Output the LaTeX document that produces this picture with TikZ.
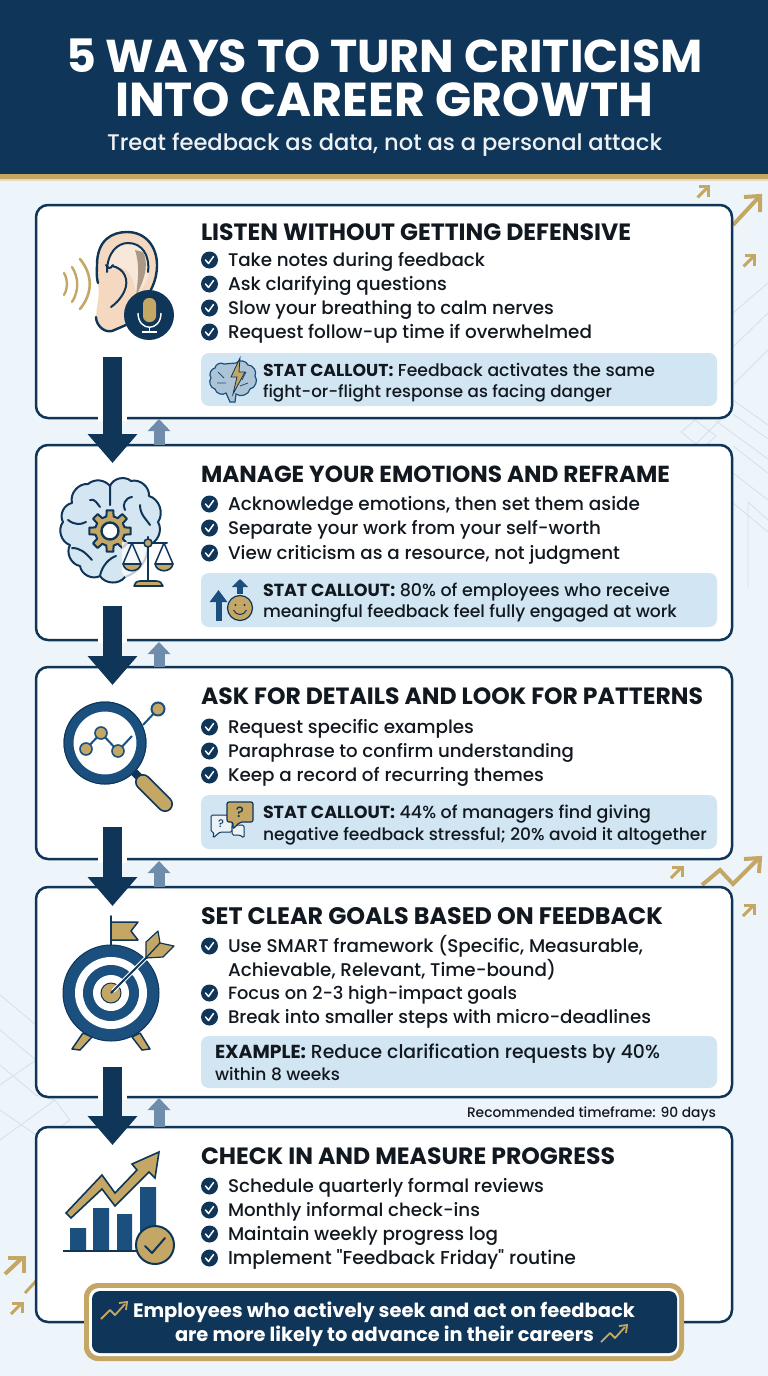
\documentclass[tikz,border=0pt]{standalone}
\usepackage{fontspec}
\setmainfont{Poppins Medium}[BoldFont=Poppins Bold]
\newfontfamily\plainf{Poppins Medium}
\usetikzlibrary{arrows.meta,calc}
\definecolor{navy}{HTML}{0F3558}
\definecolor{midblue}{HTML}{1A4F7E}
\definecolor{gold}{HTML}{C4A765}
\definecolor{ink}{HTML}{12181F}
\definecolor{callfill}{HTML}{D2E5F2}
\definecolor{pale}{HTML}{D3E0EC}
\definecolor{skin}{HTML}{F4D9C0}
\definecolor{brainblue}{HTML}{D5E6F3}
\definecolor{upblue}{HTML}{6F8DAB}
\definecolor{bgedge}{HTML}{EEF5FA}
\definecolor{bgmid}{HTML}{F8FBFD}
\newcommand\fitt[2]{\resizebox{#1pt}{!}{\fontsize{20}{24}\selectfont #2}}
\tikzset{
  x=1pt,y=-1pt,
  every node/.style={outer sep=0pt},
  lbl/.style={anchor=base west,inner sep=0pt,text=ink},
  card/.style={draw=navy,line width=2.5pt,fill=white,rounded corners=12pt,anchor=north west,inner sep=0pt},
  callbox/.style={fill=callfill,rounded corners=8pt,anchor=north west,inner sep=0pt},
  chk/.style={circle,fill=navy,minimum size=17pt,inner sep=0pt},
  bigarr/.style={navy,line width=19pt,-{Triangle[width=48pt,length=29pt]}},
  uparr/.style={upblue,line width=11pt,-{Triangle[width=22pt,length=12pt]}},
  deco/.style={gold,line width=3pt},
  pat/.style={pale,line width=0.8pt},
  ol/.style={draw=navy,line width=2pt,line join=round,line cap=round},
  tick/.pic={\draw[white,line width=1.5pt,line cap=round,line join=round] (-4,0)--(-1,3.5)--(4,-3.5);},
  smallup/.pic={\draw[deco] (-5,5)--(5,-5);\draw[deco,line join=miter] (-4,-6)--(6,-6)--(6,4);},
  trendic/.pic={\draw[gold,line width=1.8pt,line join=round] (0,17)--(9,8)--(14,13)--(24,2);\draw[gold,line width=1.8pt] (18,1)--(26,0)--(25,8);},
}
\newcommand\bul[4]{%
  \node[chk] (#1c) at (209.5,#2) {};
  \pic at (209.5,#2) {tick};
  \node[lbl] (#1) at (228,#2+6.5) {\fitt{#3}{#4}};
}
\newcommand\cardbox[3]{\node[card,minimum width=696pt,minimum height=#3pt] (#1) at (36,#2) {};}
\newcommand\callbox[3]{\node[callbox,minimum width=516pt,minimum height=#3pt] (#1) at (201,#2) {};}
\begin{document}
\begin{tikzpicture}
\useasboundingbox (0,0) rectangle (768,1376);
% background
\fill[left color=bgedge,middle color=bgmid,right color=bgedge] (0,0) rectangle (768,1376);
% pattern lines right
\draw[pat] (768,283)--(733,313) (768,313)--(733,347) (768,350)--(733,385);
\draw[pat] (733,400)--(768,425) (733,414)--(768,439) (681,432)--(695,420)--(716,436)--(706,445) (681,432)--(696,444) (695,445)--(716,424)--(732,410);
\draw[pat] (716,421)--(768,459) (733,446)--(768,473) (733,473)--(768,500) (733,503)--(768,532);
\draw[pat] (748,587)--(748,502)--(768,520);
% pattern lines left
\draw[pat] (0,995)--(36,1025) (0,1030)--(36,1060) (0,1065)--(36,1095) (0,1085)--(36,1060);
\draw[pat] (0,1140)--(55,1100)--(70,1120)--(36,1145) (0,1110)--(36,1135) (35,1095)--(55,1100);
% deco arrows
\pic at (702.5,192.5) {smallup};
\draw[deco,line width=4pt] (733,225)--(759,197);
\draw[deco,line width=4pt] (744,197)--(760,196)--(760,212);
\pic at (748.5,261.5) {smallup};
\pic at (676,873) {smallup};
\draw[deco,line width=4pt,line join=miter] (702,885)--(720,870)--(733,884)--(758,859);
\draw[deco,line width=4pt] (744,859)--(760,858)--(759,873);
\pic at (748,911) {smallup};
\draw[deco,line width=4pt] (5,1274)--(22,1258);
\draw[deco,line width=4pt] (8,1258)--(24,1258)--(24,1273);
\draw[deco] (25,1293)--(36,1281);
\pic at (16,1309) {smallup};
% header
\node[fill=navy,minimum width=768pt,minimum height=174pt,anchor=north west,inner sep=0pt] (hdr) at (0,0) {};
\fill[gold] (0,174) rectangle (768,179);
\fill[gold!40] (0,179) rectangle (768,181);
\node[lbl,text=white] (t1) at (66,72) {\fitt{637}{\textbf{5 WAYS TO TURN CRITICISM}}};
\node[lbl,text=white] (t2) at (115,116.5) {\fitt{538}{\textbf{INTO CAREER GROWTH}}};
\node[lbl,text=white!93!navy] (t3) at (107,150) {\fitt{555}{Treat feedback as data, not as a personal attack}};
% cards
\cardbox{c1}{205}{213}
\cardbox{c2}{445}{195}
\cardbox{c3}{667}{192}
\cardbox{c4}{887}{210}
\cardbox{c5}{1127}{195}
% card 1
\node[lbl] (h1) at (201,240) {\fitt{430}{\textbf{LISTEN WITHOUT GETTING DEFENSIVE}}};
\bul{b11}{260}{257}{Take notes during feedback}
\bul{b12}{284}{219}{Ask clarifying questions}
\bul{b13}{308}{326}{Slow your breathing to calm nerves}
\bul{b14}{332}{364}{Request follow-up time if overwhelmed}
\callbox{k1}{353}{53}
\node[lbl] (k1a) at (263,376.5) {\fitt{392}{\textbf{STAT CALLOUT:} Feedback activates the same}};
\node[lbl] (k1b) at (263,397) {\fitt{349}{fight-or-flight response as facing danger}};
% card 2
\node[lbl] (h2) at (201,482) {\fitt{469}{\textbf{MANAGE YOUR EMOTIONS AND REFRAME}}};
\bul{b21}{504}{412}{Acknowledge emotions, then set them aside}
\bul{b22}{528}{373}{Separate your work from your self-worth}
\bul{b23}{553}{392}{View criticism as a resource, not judgment}
\callbox{k2}{573}{54}
\node[lbl] (k2a) at (263,596.5) {\fitt{407}{\textbf{STAT CALLOUT:} 80\% of employees who receive}};
\node[lbl] (k2b) at (263,617) {\fitt{414}{meaningful feedback feel fully engaged at work}};
% card 3
\node[lbl] (h3) at (201,704) {\fitt{502}{\textbf{ASK FOR DETAILS AND LOOK FOR PATTERNS}}};
\bul{b31}{727}{246}{Request specific examples}
\bul{b32}{751}{346}{Paraphrase to confirm understanding}
\bul{b33}{775}{316}{Keep a record of recurring themes}
\callbox{k3}{795}{54}
\node[lbl] (k3a) at (263,818.5) {\fitt{388}{\textbf{STAT CALLOUT:} 44\% of managers find giving}};
\node[lbl] (k3b) at (263,840) {\fitt{444}{negative feedback stressful; 20\% avoid it altogether}};
% card 4
\node[lbl] (h4) at (201,924) {\fitt{462}{\textbf{SET CLEAR GOALS BASED ON FEEDBACK}}};
\bul{b41}{946}{415}{Use SMART framework (Specific, Measurable,}
\node[lbl] (b41x) at (228,976.5) {\fitt{328}{Achievable, Relevant, Time-bound)}};
\bul{b42}{993}{289}{Focus on 2-3 high-impact goals}
\bul{b43}{1017}{423}{Break into smaller steps with micro-deadlines}
\callbox{k4}{1036}{52}
\node[lbl] (k4a) at (215,1058.5) {\fitt{445}{\textbf{EXAMPLE:} Reduce clarification requests by 40\%}};
\node[lbl] (k4b) at (215,1080) {\fitt{125}{within 8 weeks}};
\node[lbl] (note) at (467,1117) {\fitt{249}{Recommended timeframe: 90 days}};
% card 5
\node[lbl] (h5) at (201,1164) {\fitt{414}{\textbf{CHECK IN AND MEASURE PROGRESS}}};
\bul{b51}{1186}{316}{Schedule quarterly formal reviews}
\bul{b52}{1210}{252}{Monthly informal check-ins}
\bul{b53}{1234}{270}{Maintain weekly progress log}
\bul{b54}{1258}{348}{\plainf Implement "Feedback Friday" routine}
% connectors
\foreach \yy in {418,640,859.5,1097}{\fill[white] (98,\yy-3) rectangle (127,\yy+3);}
\coordinate (a1s) at (112.5,357); \coordinate (a1e) at (112.5,463);
\coordinate (a2s) at (112.5,606); \coordinate (a2e) at (112.5,685);
\coordinate (a3s) at (112.5,827); \coordinate (a3e) at (112.5,906);
\coordinate (a4s) at (112.5,1067); \coordinate (a4e) at (112.5,1145);
\coordinate (u1s) at (159,445); \coordinate (u1e) at (159,419);
\coordinate (u2s) at (159,667); \coordinate (u2e) at (159,642);
\coordinate (u3s) at (159,887); \coordinate (u3e) at (159,861);
\coordinate (u4s) at (159,1127); \coordinate (u4e) at (159,1098);
\foreach \p in {u1,u2,u3,u4}{\draw[uparr] (\p s)--(\p e);}
\foreach \p in {a1,a2,a3,a4}{\draw[bigarr] (\p s)--(\p e);}
% ---- ear icon
\draw[gold,line width=2.4pt,line cap=round] (64,273) .. controls (68,280) and (68,288) .. (64,295);
\draw[gold,line width=2.4pt,line cap=round] (72,267) .. controls (79,278) and (79,291) .. (72,302);
\draw[gold,line width=2.6pt,line cap=round] (80,259) .. controls (93,275) and (93,293) .. (80,309);
\fill[skin] (97,265) .. controls (97,240) and (112,232) .. (127,232) .. controls (146,232) and (157,247) .. (157,265) .. controls (157,282) and (150,292) .. (142,305) -- (125,325) .. controls (118,334) and (104,333) .. (98,325) .. controls (95,320) and (96,314) .. (98,300) .. controls (100,290) and (97,280) .. (97,265) -- cycle;
\draw[ol,line width=2.4pt] (98,283) .. controls (96,275) and (97,270) .. (97,265) .. controls (97,240) and (112,232) .. (127,232) .. controls (146,232) and (157,247) .. (157,265) .. controls (157,282) and (150,292) .. (142,305);
\draw[ol,line width=2.4pt] (96,317) .. controls (96,325) and (104,333) .. (112,331) -- (126,325);
\fill[skin!60!white] (108,268) .. controls (108,250) and (120,243) .. (130,243) .. controls (143,243) and (150,255) .. (149,270) .. controls (148,282) and (142,288) .. (136,296) .. controls (135,275) and (125,262) .. (112,270) -- cycle;
\fill[black!30!skin] (143,252) .. controls (148,262) and (147,275) .. (136,296) .. controls (138,280) and (140,265) .. (135,250) -- cycle;
\draw[ol] (107,272) .. controls (107,252) and (118,243) .. (128,243) .. controls (142,243) and (150,255) .. (148,272);
\draw[ol] (106,265) .. controls (108,268) and (110,270) .. (113,265);
\draw[ol] (112,266) .. controls (124,268) and (130,280) .. (124,292) .. controls (120,300) and (114,305) .. (111,307);
\node[circle,fill=navy,minimum size=50pt,inner sep=0pt] (mic) at (149,315) {};
\fill[gold,rounded corners=6pt] (143,298) rectangle (156,322);
\draw[white,line width=1.4pt] (138,313) .. controls (138,332) and (161,332) .. (161,313);
\draw[white,line width=1.4pt] (149.5,328) -- (149.5,331) (142,332) -- (157,332);
% small brain callout 1
\begin{scope}[shift={(210,358)}]
\draw[midblue,line width=1.2pt,fill=brainblue!60!midblue!70!white] (14,6) to[bend right=60] (5,10) to[bend right=60] (1,20) to[bend right=60] (5,31) to[bend right=60] (16,35) -- (20,44) -- (25,44) -- (26,36) to[bend right=60] (40,31) to[bend right=60] (45,18) to[bend right=60] (38,7) to[bend right=60] (26,5) -- cycle;
\draw[midblue,line width=.8pt] (8,14)--(14,20) (7,25)--(16,25) (36,14)--(32,22) (38,25)--(30,28);
\draw[navy,line width=0.8pt,fill=gold] (30,0) -- (21,19) -- (27,19) -- (23,36) -- (35,14) -- (29,14) -- cycle;
\end{scope}
% ---- brain icon
\draw[ol,fill=brainblue] (110,486) to[bend left=55] (131,481) to[bend left=55] (149,496) to[bend left=55] (158,522) to[bend left=55] (148,545) to[bend left=35] (125,577) to[bend left=55] (100,576) to[bend left=55] (80,566) to[bend left=55] (70,545) to[bend left=55] (63,522) to[bend left=55] (72,503) to[bend left=55] (88,484) to[bend left=45] cycle;
\draw[ol] (110,486) -- (110,505) (90,500) .. controls (95,498) and (98,505) .. (100,507);
\draw[ol] (132,497) .. controls (125,498) and (122,505) .. (125,510) (140,505) .. controls (140,515) and (147,520) .. (150,525);
\draw[ol] (68,520) .. controls (75,525) and (80,525) .. (86,522) (72,548) .. controls (80,548) and (85,552) .. (92,560) (100,576) .. controls (102,565) and (110,558) .. (116,556);
% gear
\begin{scope}[shift={(110,531)}]
\draw[ol,fill=gold] (-14:15) \foreach \a in {0,45,...,315} {-- (\a-14:15) -- (\a-9:21) -- (\a+9:21) -- (\a+14:15)} -- cycle;
\draw[ol,fill=white,line width=2.4pt] (0,0) circle (8.5);
\end{scope}
% scales
\fill[white,opacity=.75] (122,542) -- (174,542) -- (174,572) -- (160,590) -- (134,590) -- (122,572) -- cycle;
\draw[ol] (128,543)--(167,543);
\draw[ol,line width=2.2pt] (148,537)--(148,581);
\node[circle,fill=gold,draw=navy,line width=1.6pt,minimum size=8pt,inner sep=0pt] (sc) at (148,543) {};
\draw[ol,line width=1.5pt] (132,543)--(123,564) (132,543)--(141,564) (164,543)--(155,564) (164,543)--(173,564);
\draw[ol,line width=1.6pt,fill=gold] (123,564) .. controls (125,573) and (139,573) .. (141,564) -- cycle;
\draw[ol,line width=1.6pt,fill=gold] (155,564) .. controls (157,573) and (171,573) .. (173,564) -- cycle;
\draw[ol,line width=1.6pt,fill=gold] (134,586) .. controls (136,581) and (138,581) .. (140,581) -- (156,581) .. controls (160,581) and (162,583) .. (163,586) -- cycle;
% callout 2 icon
\draw[midblue,line width=6pt,-{Triangle[width=17pt,length=12pt]}] (218.5,621)--(218.5,590);
\draw[midblue,line width=5.5pt,-{Triangle[width=16pt,length=8pt]}] (240,594)--(240,579);
\node[circle,fill=gold,draw=navy,line width=1.2pt,minimum size=25pt,inner sep=0pt] (smile) at (240,608) {};
\fill[navy] (235.5,605) circle (1.1) (244.5,605) circle (1.1);
\draw[navy,line width=1pt] (233.5,610) .. controls (236,616) and (244,616) .. (246.5,610);
% ---- magnifier
\draw[midblue,line width=2pt] (143,725)--(158,709);
\node[circle,fill=gold,draw=midblue,line width=2pt,minimum size=13pt,inner sep=0pt] (nod) at (158,709) {};
\draw[navy,line width=8pt] (133,771)--(141,779);
\draw[navy,line width=16pt,line cap=round] (143,782)--(165,804);
\draw[gold,line width=12.5pt,line cap=round] (143,782)--(165,804);
\node[circle,draw=midblue,line width=10pt,fill=white,minimum size=73pt,inner sep=0pt] (lens) at (105,743) {};
\draw[navy,line width=1pt] (105,743) circle (41);
\draw[midblue,line width=2pt] (86,749)--(101,733)--(118,751)--(132,736);
\foreach \n/\p in {m1/{(86,749)},m2/{(101,733)},m3/{(118,751)}}{\node[circle,fill=gold,draw=midblue,line width=1.6pt,minimum size=12pt,inner sep=0pt] (\n) at \p {};}
% callout 3 icon
\draw[navy,line width=1pt,fill=callfill!50!white,rounded corners=1.5pt] (211,815)--(232,815)--(232,832)--(220,832)--(213,838)--(214,832)--(211,832)--cycle;
\draw[navy,line width=1pt,fill=callfill!50!white,rounded corners=1.5pt] (232,825)--(238,825)--(244,825)--(244,838)--(240,835)--(232,835)--cycle;
\draw[navy,line width=1.2pt,fill=gold,rounded corners=2pt] (227,802)--(253,802)--(253,822)--(240,822)--(233,829)--(233,822)--(227,822)--cycle;
\node[inner sep=0pt,text=navy] (q1) at (240,812) {\fontsize{15}{15}\selectfont ?};
\node[inner sep=0pt,text=navy] (q2) at (221,824) {\fontsize{11}{11}\selectfont ?};
% ---- target
\draw[ol,line width=2pt] (110.5,916)--(110.5,947);
\draw[ol,line width=1.5pt,fill=gold] (111,922)--(138,922)--(131,931)--(138,940)--(111,940)--cycle;
\draw[ol,line width=1.5pt,fill=gold] (83,1033)--(92,1037)--(80,1050)--(72,1049)--cycle;
\draw[ol,line width=1.5pt,fill=gold] (132,1037)--(140,1033)--(150,1049)--(142,1050)--cycle;
\node[circle,fill=midblue,draw=navy,line width=1pt,minimum size=96pt,inner sep=0pt] (tg) at (111,993) {};
\node[circle,fill=white,minimum size=72pt,inner sep=0pt] (tg2) at (111,993) {};
\node[circle,fill=midblue,minimum size=56pt,inner sep=0pt] (tg3) at (111,993) {};
\node[circle,fill=white,minimum size=36pt,inner sep=0pt] (tg4) at (111,993) {};
\node[circle,fill=gold,draw=navy,line width=1pt,minimum size=20pt,inner sep=0pt] (tg5) at (111,993) {};
\draw[white,line width=4pt] (113,991)--(148,956);
\draw[navy,line width=2pt] (111,993)--(150,954);
\draw[ol,line width=1.2pt,fill=gold] (146,958)--(146,942)--(158,931)--(160,943)--cycle;
\draw[ol,line width=1.2pt,fill=gold] (146,958)--(163,957)--(174,946)--(160,943)--cycle;
% ---- chart
\fill[midblue] (70,1228) rectangle (86,1250) (93,1208) rectangle (109,1250) (117,1214) rectangle (132,1250) (140,1187) rectangle (156,1250);
\draw[navy,line width=2pt] (63,1250.5)--(143,1250.5);
\draw[navy,line width=1.6pt,fill=gold,line join=miter] (66,1213)--(102,1175)--(115,1193)--(137,1170)--(132,1164)--(159,1152)--(155,1178)--(149,1172)--(115,1206)--(102,1189)--(71,1218)--cycle;
\node[circle,fill=gold,draw=navy,line width=2pt,minimum size=38pt,inner sep=0pt] (done) at (155,1245) {};
\draw[navy,line width=2pt,line cap=round,line join=round] (145,1246)--(152,1253)--(165,1238);
% ---- banner
\node[fill=gold,rounded corners=14pt,minimum width=600pt,minimum height=78pt,anchor=north west,inner sep=0pt] (bn) at (84,1283) {};
\node[fill=white,rounded corners=10pt,minimum width=590pt,minimum height=68pt,anchor=north west,inner sep=0pt] (bn2) at (89,1288) {};
\node[fill=navy,rounded corners=8pt,minimum width=585pt,minimum height=62pt,anchor=north west,inner sep=0pt] (bn3) at (92,1291) {};
\pic at (101,1302) {trendic};
\pic at (601,1325) {trendic};
\node[lbl,text=white] (f1) at (133,1317.5) {\fitt{502}{\textbf{Employees who actively seek and act on feedback}}};
\node[lbl,text=white] (f2) at (175,1341.5) {\fitt{419}{\textbf{are more likely to advance in their careers}}};
\end{tikzpicture}
\end{document}
